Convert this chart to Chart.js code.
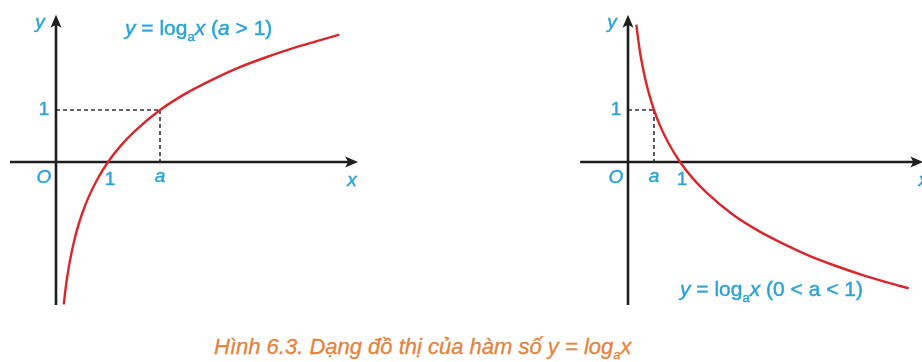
<!DOCTYPE html>
<html>
<head>
<meta charset="utf-8">
<script src="https://cdn.jsdelivr.net/npm/chart.js@4/dist/chart.umd.min.js"></script>
<style>
  html, body { margin: 0; padding: 0; background: #fff; }
  #page { position: relative; width: 922px; height: 362px; overflow: hidden; background: #fff; }
  .panel { position: absolute; top: 0; }
  #caption {
    position: absolute; left: 214px; top: 335px; line-height: 24px;
    font-family: "Liberation Sans", Arial, sans-serif; font-style: italic;
    font-size: 22px; color: #e5833c; white-space: nowrap;
    -webkit-text-stroke: 0.3px #e5833c;
  }
  #caption sub { font-size: 13px; vertical-align: -5px; }
</style>
</head>
<body>
<div id="page">
  <div class="panel" style="left:0px"><canvas id="left" width="380" height="320"></canvas></div>
  <div class="panel" style="left:560px"><canvas id="right" width="362" height="320"></canvas></div>
  <div id="caption">Hình 6.3. Dạng đồ thị của hàm số y = log<sub>a</sub>x</div>
</div>
<script>
// y = log_a x with a > 1 (left panel)
const xIncreasing = [0.15, 0.18, 0.22, 0.27, 0.33, 0.4, 0.5, 0.62, 0.78, 1, 1.25, 1.5, 2, 2.5, 3, 3.5, 4, 4.5, 5, 5.45];
const yIncreasing = [-2.74, -2.47, -2.18, -1.89, -1.6, -1.32, -1, -0.69, -0.36, 0, 0.32, 0.58, 1, 1.32, 1.58, 1.81, 2, 2.17, 2.32, 2.45];

// y = log_a x with 0 < a < 1 (right panel)
const xDecreasing = [0.16, 0.19, 0.23, 0.28, 0.34, 0.41, 0.5, 0.62, 0.78, 1, 1.25, 1.5, 2, 2.5, 3, 3.5, 4, 4.5, 5, 5.4];
const yDecreasing = [2.64, 2.4, 2.12, 1.84, 1.56, 1.29, 1, 0.69, 0.36, 0, -0.32, -0.58, -1, -1.32, -1.58, -1.81, -2, -2.17, -2.32, -2.43];

// axis tick labels: value on the axis and its text
const leftXTicks = [[1, '1'], [2, 'a']];
const rightXTicks = [[0.5, 'a'], [1, '1']];
const yTicks = [[1, '1']];
const baseA = { left: 2, right: 0.5 };

const BLUE = '#2ba3d6';
const RED = '#d8262b';
const AXIS = '#1e1e1e';
const FONT = '"Liberation Sans", Arial, sans-serif';
const LABEL_SIZE = 19;
const TITLE_SIZE = 21;

function pts(xs, ys) { return xs.map((x, i) => ({ x, y: ys[i] })); }

function arrow(ctx, x, y, dir) {
  ctx.save();
  ctx.translate(x, y);
  ctx.rotate(dir);
  ctx.beginPath();
  ctx.moveTo(0, 0);
  ctx.lineTo(-13, -5.5);
  ctx.lineTo(-10, 0);
  ctx.lineTo(-13, 5.5);
  ctx.closePath();
  ctx.fillStyle = AXIS;
  ctx.fill();
  ctx.restore();
}

// filled text with a hairline outline for a slightly heavier weight
function paintText(ctx, t, x, y) {
  ctx.fillText(t, x, y);
  ctx.strokeText(t, x, y);
}

// draws a run of text pieces: {t, it (italic), sub (subscript)}
function richText(ctx, x, y, parts, size) {
  let cx = x;
  ctx.textBaseline = 'middle';
  ctx.textAlign = 'left';
  ctx.fillStyle = BLUE;
  ctx.strokeStyle = BLUE;
  ctx.lineWidth = 0.45;
  for (const p of parts) {
    const s = p.sub ? size * 0.62 : size;
    ctx.font = (p.it ? 'italic ' : '') + s + 'px ' + FONT;
    paintText(ctx, p.t, cx, p.sub ? y + size * 0.38 : y);
    cx += ctx.measureText(p.t).width;
  }
}

function label(ctx, txt, x, y, italic, size) {
  ctx.font = (italic ? 'italic ' : '') + (size || LABEL_SIZE) + 'px ' + FONT;
  ctx.fillStyle = BLUE;
  ctx.strokeStyle = BLUE;
  ctx.lineWidth = 0.45;
  ctx.textAlign = 'center';
  ctx.textBaseline = 'middle';
  paintText(ctx, txt, x, y);
}

function makePlugin(cfg) {
  return {
    id: 'axesAndNotes',
    beforeDatasetsDraw(chart) {
      const { ctx, scales: { x, y } } = chart;
      const x0 = x.getPixelForValue(0), y0 = y.getPixelForValue(0);
      ctx.save();
      // dashed guides from (a, 1)
      const ax = x.getPixelForValue(cfg.a), ay = y.getPixelForValue(1);
      ctx.strokeStyle = '#333';
      ctx.lineWidth = 1.6;
      ctx.setLineDash([4, 3]);
      ctx.beginPath();
      ctx.moveTo(x0, ay); ctx.lineTo(ax, ay);
      ctx.moveTo(ax, ay); ctx.lineTo(ax, y0);
      ctx.stroke();
      ctx.setLineDash([]);
      // coordinate axes
      ctx.strokeStyle = AXIS;
      ctx.lineWidth = 2.6;
      const xs = x.getPixelForValue(cfg.xAxis[0]), xe = x.getPixelForValue(cfg.xAxis[1]);
      const ys = y.getPixelForValue(cfg.yAxis[0]), ye = y.getPixelForValue(cfg.yAxis[1]);
      ctx.beginPath();
      ctx.moveTo(xs, y0); ctx.lineTo(xe - 8, y0);
      ctx.moveTo(x0, ys); ctx.lineTo(x0, ye + 8);
      ctx.stroke();
      arrow(ctx, xe, y0, 0);
      arrow(ctx, x0, ye, -Math.PI / 2);
      ctx.restore();
    },
    afterDatasetsDraw(chart) {
      const { ctx, scales: { x, y } } = chart;
      const x0 = x.getPixelForValue(0), y0 = y.getPixelForValue(0);
      ctx.save();
      label(ctx, 'y', x0 - 16, y.getPixelForValue(cfg.yAxis[1]) + 8, true);
      label(ctx, 'O', x0 - 12, y0 + 16, true);
      label(ctx, 'x', x.getPixelForValue(cfg.xAxis[1]) + cfg.xLabelDx, y0 + 19, true);
      for (const [v, t] of cfg.xTicks) {
        const it = t !== '1';
        label(ctx, t, x.getPixelForValue(v) + (it ? 0 : 2), y0 + (it ? 15 : 18), it);
      }
      for (const [v, t] of yTicks) label(ctx, t, x0 - 12, y.getPixelForValue(v), false);
      richText(ctx, cfg.title.x, cfg.title.y, cfg.title.parts, TITLE_SIZE);
      ctx.restore();
    }
  };
}

function makeChart(id, xs, ys, cfg) {
  return new Chart(document.getElementById(id), {
    type: 'scatter',
    data: {
      datasets: [{
        data: pts(xs, ys),
        showLine: true,
        borderColor: RED,
        borderWidth: 2.4,
        pointRadius: 0,
        cubicInterpolationMode: 'monotone',
        fill: false
      }]
    },
    options: {
      responsive: false,
      animation: false,
      devicePixelRatio: 1,
      layout: { padding: 0 },
      plugins: { legend: { display: false }, tooltip: { enabled: false } },
      scales: {
        x: { type: 'linear', display: false, min: cfg.xRange[0], max: cfg.xRange[1] },
        y: { type: 'linear', display: false, min: -158 / 52, max: 162 / 52 }
      }
    },
    plugins: [makePlugin(cfg)]
  });
}

makeChart('left', xIncreasing, yIncreasing, {
  a: baseA.left,
  xRange: [-56 / 52, 324 / 52],
  xAxis: [-0.885, 5.81],
  yAxis: [-2.75, 2.83],
  xLabelDx: -6,
  xTicks: leftXTicks,
  title: { x: 125, y: 29, parts: [
    { t: 'y', it: true }, { t: ' = log' }, { t: 'a', sub: true }, { t: 'x', it: true },
    { t: ' (' }, { t: 'a', it: true }, { t: ' > 1)' }
  ] }
});

makeChart('right', xDecreasing, yDecreasing, {
  a: baseA.right,
  xRange: [-68 / 52, 294 / 52],
  xAxis: [-0.92, 5.68],
  yAxis: [-2.75, 2.83],
  xLabelDx: 0,
  xTicks: rightXTicks,
  title: { x: 120, y: 290, parts: [
    { t: 'y', it: true }, { t: ' = log' }, { t: 'a', sub: true }, { t: 'x', it: true },
    { t: ' (0 < ' }, { t: 'a' }, { t: ' < 1)' }
  ] }
});
</script>
</body>
</html>
